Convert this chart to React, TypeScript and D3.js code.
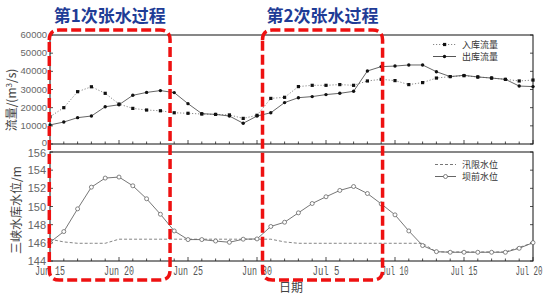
import React from "react";
import * as d3 from "d3";

// ---- data (day 0 = Jun 15, day 35 = Jul 20) ----
const inflow = [15000, 20000, 28800, 31500, 27900, 22000, 19600, 18700, 18300, 17200, 16900, 16500, 16300, 16000, 14100, 15800, 25100, 25700, 31600, 32300, 32300, 32700, 32300, 34700, 35600, 34900, 32700, 33800, 36300, 37100, 37600, 36900, 36300, 35600, 34700, 35200];
const outflow = [10500, 12100, 14500, 15400, 20500, 21600, 26800, 28400, 29400, 28300, 22200, 16700, 16300, 15400, 11400, 15400, 17200, 22800, 25500, 26100, 27200, 27900, 29000, 40200, 42600, 42900, 43500, 43500, 39800, 37100, 37800, 36900, 36300, 35600, 31900, 31600];
const level = [146.06, 147.24, 149.74, 152.13, 153.13, 153.24, 152.28, 150.85, 149.15, 147.31, 146.36, 146.36, 146.2, 146.06, 146.4, 146.43, 147.8, 148.27, 149.3, 150.33, 151.07, 151.77, 152.2, 151.43, 150.29, 149.08, 147.31, 145.7, 145.03, 144.96, 144.96, 144.96, 144.96, 144.96, 145.4, 146.02];
const floodLimit = [146.4, 146.1, 145.95, 145.95, 145.95, 146.4, 146.4, 146.4, 146.4, 146.4, 146.4, 146.4, 146.4, 146.4, 146.4, 146.4, 146.4, 146.1, 145.95, 145.95, 145.95, 145.95, 145.95, 145.95, 145.95, 145.95, 145.95, 145.95, 145.0, 145.0, 145.0, 145.0, 145.0, 145.0, 145.5, 146.0];
const days = inflow.map((_, i) => i);
const xTickDays = [0, 5, 10, 15, 20, 25, 30, 35];
const xTickLabels = ["Jun 15", "Jun 20", "Jun 25", "Jun 30", "Jul 5", "Jul 10", "Jul 15", "Jul 20"];
const flowTicks = [0, 10000, 20000, 30000, 40000, 50000, 60000];
const levelTicks = [144, 146, 148, 150, 152, 154, 156];
const flowLegend = ["入库流量", "出库流量"];
const levelLegend = ["汛限水位", "坝前水位"];
const titles = ["第1次张水过程", "第2次张水过程"];
// highlighted periods (day ranges)
const periods = [[-0.05, 8.7], [15.4, 24.1]];

const W = 552, H = 294;
const X0 = 50, X1 = 533;
const T0 = 35, T1 = 144; // top panel
const B0 = 152, B1 = 261; // bottom panel

export default function App() {
  const x = d3.scaleLinear().domain([0, 35]).range([X0, X1]);
  const yF = d3.scaleLinear().domain([0, 60000]).range([T1, T0]);
  const yL = d3.scaleLinear().domain([144, 156]).range([B1, B0]);

  const lineF = (arr: number[]) => d3.line<number>().x((_, i) => x(i)).y((v) => yF(v))(arr) || "";
  const lineL = (arr: number[]) => d3.line<number>().x((_, i) => x(i)).y((v) => yL(v))(arr) || "";

  const allDays = d3.range(0, 36);
  const tickFont = "'Liberation Sans', Arial, sans-serif";
  const cjk = "'Noto Sans CJK SC', sans-serif";

  const xTicksPanel = (yb: number) =>
    allDays.map((d) => (
      <line key={d} x1={x(d)} x2={x(d)} y1={yb} y2={yb - (d % 5 === 0 ? 4 : 2.5)} stroke="#222" strokeWidth={0.8} />
    ));

  const roundedBox = (l: number, t: number, r: number, b: number, rad: number) =>
    `M${l},${t + rad} Q${l},${t} ${l + rad},${t} L${r - rad},${t} Q${r},${t} ${r},${t + rad} L${r},${b - rad} Q${r},${b} ${r - rad},${b} L${l + rad},${b} Q${l},${b} ${l},${b - rad} Z`;

  return (
    <svg width={W} height={H} style={{ position: "absolute", left: 0, top: 0, background: "#fff" }}>
      {/* ---------- top panel ---------- */}
      <rect x={X0} y={T0} width={X1 - X0} height={T1 - T0} fill="none" stroke="#111" strokeWidth={1} />
      {flowTicks.map((t) => (
        <g key={t}>
          <line x1={X0} x2={X0 + 3} y1={yF(t)} y2={yF(t)} stroke="#222" strokeWidth={0.8} />
          <line x1={X1} x2={X1 - 3} y1={yF(t)} y2={yF(t)} stroke="#222" strokeWidth={0.8} />
          <text x={X0 - 3} y={yF(t) + (t === 0 ? 1.5 : 3)} textAnchor="end" fontFamily={tickFont} fontSize={9.5} fill="#666">{t}</text>
        </g>
      ))}
      {xTicksPanel(T1)}
      <path d={lineF(inflow)} fill="none" stroke="#888" strokeWidth={1} strokeDasharray="1.2,1.8" />
      <path d={lineF(outflow)} fill="none" stroke="#555" strokeWidth={0.9} />
      {days.map((d) => (
        <rect key={"i" + d} x={x(d) - 1.6} y={yF(inflow[d]) - 1.6} width={3.2} height={3.2} fill="#111" />
      ))}
      {days.map((d) => (
        <circle key={"o" + d} cx={x(d)} cy={yF(outflow[d])} r={1.7} fill="#111" />
      ))}
      {/* legend top */}
      <g>
        <line x1={433} x2={456} y1={44.5} y2={44.5} stroke="#888" strokeDasharray="1.2,1.8" />
        <rect x={443} y={42.9} width={3.2} height={3.2} fill="#111" />
        <text x={462} y={47.5} fontFamily={cjk} fontSize={9} fill="#333">{flowLegend[0]}</text>
        <line x1={433} x2={456} y1={56.5} y2={56.5} stroke="#555" />
        <circle cx={444.5} cy={56.5} r={1.7} fill="#111" />
        <text x={462} y={59.5} fontFamily={cjk} fontSize={9} fill="#333">{flowLegend[1]}</text>
      </g>

      {/* ---------- bottom panel ---------- */}
      <rect x={X0} y={B0} width={X1 - X0} height={B1 - B0} fill="none" stroke="#111" strokeWidth={1} />
      {levelTicks.map((t) => (
        <g key={t}>
          <line x1={X0} x2={X0 + 3} y1={yL(t)} y2={yL(t)} stroke="#222" strokeWidth={0.8} />
          <line x1={X1} x2={X1 - 3} y1={yL(t)} y2={yL(t)} stroke="#222" strokeWidth={0.8} />
          <text x={X0 - 4} y={yL(t) + (t === 156 ? 5 : 4)} textAnchor="end" fontFamily={tickFont} fontSize={11} fill="#666">{t}</text>
        </g>
      ))}
      {xTicksPanel(B1)}
      {xTickDays.map((d, i) => (
        <text key={d} x={i === 7 ? x(d) - 4 : x(d)} y={275} textAnchor="middle" fontFamily="'Liberation Mono', 'DejaVu Sans Mono', monospace" fontSize={10} textLength={i < 4 ? 30 : 27} lengthAdjust="spacingAndGlyphs" fill="#555" style={{ fontSize: "10px" }} transform={`translate(${i === 7 ? x(d) - 4 : x(d)},275) scale(1,1.2) translate(${-(i === 7 ? x(d) - 4 : x(d))},-275)`}>{xTickLabels[i]}</text>
      ))}
      <path d={lineL(floodLimit)} fill="none" stroke="#777" strokeWidth={0.9} strokeDasharray="3,2" />
      <path d={lineL(level)} fill="none" stroke="#666" strokeWidth={0.9} />
      {days.map((d) => (
        <circle key={"l" + d} cx={x(d)} cy={yL(level[d])} r={2} fill="#fff" stroke="#666" strokeWidth={0.8} />
      ))}
      {/* legend bottom */}
      <g>
        <line x1={435} x2={456} y1={164.5} y2={164.5} stroke="#777" strokeDasharray="3,2" />
        <text x={462} y={167.5} fontFamily={cjk} fontSize={9} fill="#333">{levelLegend[0]}</text>
        <line x1={435} x2={456} y1={176.5} y2={176.5} stroke="#666" />
        <circle cx={445.5} cy={176.5} r={2} fill="#fff" stroke="#666" strokeWidth={0.8} />
        <text x={462} y={179.5} fontFamily={cjk} fontSize={9} fill="#333">{levelLegend[1]}</text>
      </g>

      {/* axis titles */}
      <text transform={`translate(16,100) rotate(-90)`} textAnchor="middle" fontFamily={cjk} fontSize={12} fill="#444">
        流量/(m<tspan dy={-4} fontSize={8}>3</tspan><tspan dy={4}>/s)</tspan>
      </text>
      <text transform={`translate(21,210) rotate(-90)`} textAnchor="middle" fontFamily={cjk} fontSize={12} fill="#444">三峡水库水位/m</text>
      <text x={291} y={292} textAnchor="middle" fontFamily={cjk} fontSize={12} fill="#444">日期</text>

      {/* highlight boxes */}
      {periods.map((p, i) => {
        const l = x(p[0]);
        const r = x(p[1]);
        return (
          <g key={i}>
            <path d={roundedBox(l, 30, r, 280, 10)} fill="none" stroke="#EE1111" strokeWidth={3.5} strokeDasharray="10,4" />
            <text x={(l + r) / 2} y={22} textAnchor="middle" fontFamily={cjk} fontWeight="bold" fontSize={17} fill="#1F3C96">{titles[i]}</text>
          </g>
        );
      })}
    </svg>
  );
}
